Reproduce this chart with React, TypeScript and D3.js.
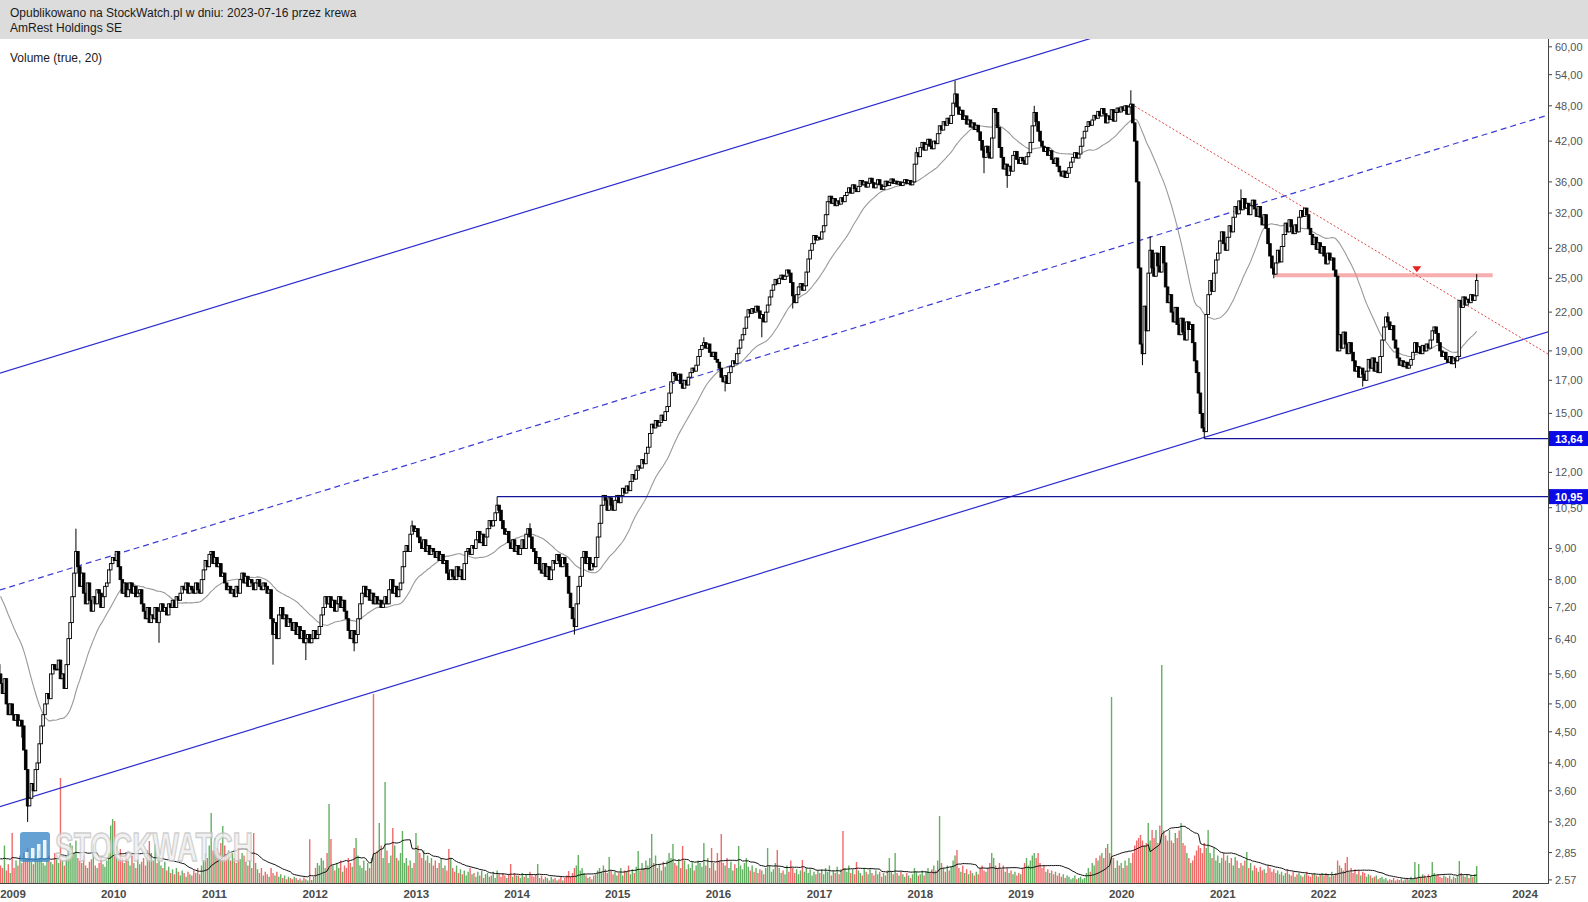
import { useEffect, useRef } from 'react';
import * as d3 from 'd3';

const WIDTH = 1588;
const HEIGHT = 902;
const HEADER_H = 39;
const AXIS_X = 1548;
const BASE_Y = 883;
const FONT = '"Liberation Sans", Arial, sans-serif';

const titleText = 'Opublikowano na StockWatch.pl w dniu: 2023-07-16 przez krewa';
const symbolText = 'AmRest Holdings SE';
const volumeLabel = 'Volume (true, 20)';
const watermarkText = 'STOCKWATCH';

const priceTicks = [60, 54, 48, 42, 36, 32, 28, 25, 22, 19, 17, 15, 12, 10.5, 9, 8, 7.2, 6.4, 5.6, 5, 4.5, 4, 3.6, 3.2, 2.85, 2.57];
const yearLabels = [2009, 2010, 2011, 2012, 2013, 2014, 2015, 2016, 2017, 2018, 2019, 2020, 2021, 2022, 2023, 2024];

// weekly closes (PLN), one value per week starting on the first Monday of the year
// 2008 starts on 2008-04-28 (only the last weeks are visible, the rest feeds the average)
const close2008 = [9.0, 8.8, 9.1, 8.7, 8.4, 8.6, 8.2, 8.0, 7.7, 7.5, 7.8, 8.1, 8.3, 8.2, 8.4, 8.2, 7.9, 7.7, 7.8, 7.6, 7.3, 7.2, 6.8, 6.2, 6.0, 5.6, 5.4, 5.8, 5.6, 5.4, 5.2, 5.5, 5.0, 4.8, 5.0, 4.8];
const close2009 = [4.7, 4.8, 4.6, 4.7, 4.6, 4.2, 3.9, 3.4, 3.5, 3.7, 3.6, 3.9, 4.0, 4.3, 4.6, 4.8, 5.0, 5.2, 5.1, 5.6, 5.8, 5.7, 5.7, 5.9, 5.5, 5.6, 5.3, 5.8, 6.4, 6.8, 7.5, 8.2, 8.9, 8.4, 7.8, 8.2, 7.6, 7.3, 7.9, 7.4, 7.1, 7.5, 7.3, 7.7, 7.6, 7.2, 7.5, 7.8, 7.9, 8.3, 8.5, 8.7];
const close2010 = [8.6, 8.9, 8.4, 8.0, 7.6, 7.9, 7.5, 7.7, 7.9, 7.6, 7.8, 7.5, 7.6, 7.7, 7.3, 7.1, 6.9, 7.2, 6.8, 7.0, 6.9, 7.2, 6.8, 7.1, 7.3, 7.1, 7.2, 7.0, 7.3, 7.2, 7.4, 7.2, 7.5, 7.4, 7.6, 7.8, 7.7, 7.9, 7.6, 7.8, 7.7, 7.6, 7.9, 7.7, 7.6, 8.0, 8.3, 8.6, 8.4, 8.8, 8.9, 8.5];
const close2011 = [8.7, 8.4, 8.5, 8.1, 8.2, 7.9, 7.7, 7.8, 7.6, 7.7, 7.5, 7.8, 7.6, 8.0, 8.2, 7.9, 8.1, 7.8, 8.0, 7.9, 7.7, 7.9, 8.0, 7.8, 7.7, 7.9, 7.8, 7.6, 7.7, 6.9, 6.5, 6.8, 6.4, 7.0, 7.2, 6.9, 7.0, 6.7, 6.9, 6.8, 6.6, 6.8, 6.5, 6.7, 6.4, 6.6, 6.3, 6.4, 6.5, 6.3, 6.4, 6.6];
const close2012 = [6.4, 6.5, 6.7, 7.0, 7.2, 7.5, 7.3, 7.5, 7.2, 7.4, 7.1, 7.3, 7.5, 7.2, 7.4, 7.1, 6.9, 6.6, 6.4, 6.6, 6.3, 6.5, 6.9, 7.3, 7.6, 7.8, 7.5, 7.7, 7.4, 7.6, 7.3, 7.5, 7.3, 7.4, 7.2, 7.3, 7.5, 7.3, 7.7, 8.0, 7.6, 7.8, 7.5, 7.7, 7.9, 8.4, 8.9, 9.1, 8.9, 9.5, 9.8, 9.6, 9.7];
const close2013 = [9.4, 9.2, 9.0, 9.3, 8.9, 9.1, 8.8, 9.0, 8.9, 8.7, 8.9, 8.6, 8.8, 8.5, 8.6, 8.2, 8.0, 8.3, 8.1, 8.0, 8.4, 8.1, 8.3, 8.0, 8.5, 8.9, 9.0, 8.8, 9.1, 9.0, 9.3, 9.6, 9.2, 9.5, 9.1, 9.4, 9.7, 10.0, 9.8, 10.0, 10.3, 10.6, 10.4, 10.0, 9.7, 9.5, 9.6, 9.2, 9.0, 9.3, 8.9, 9.1];
const close2014 = [8.8, 9.0, 9.3, 9.0, 9.5, 9.7, 9.4, 9.0, 8.9, 8.5, 8.7, 8.3, 8.2, 8.5, 8.1, 8.4, 8.0, 8.3, 8.6, 8.5, 8.8, 8.6, 8.4, 8.7, 8.5, 8.1, 7.6, 7.2, 6.9, 6.7, 7.3, 7.8, 8.1, 8.7, 8.9, 8.5, 8.7, 8.3, 8.5, 8.4, 8.7, 9.4, 9.9, 10.6, 11.0, 10.8, 10.4, 10.9, 10.6, 10.4, 10.8, 11.0];
const close2015 = [10.7, 11.0, 11.3, 11.1, 11.4, 11.2, 11.6, 11.9, 11.7, 12.1, 12.3, 12.2, 12.6, 12.4, 12.9, 13.2, 13.9, 14.4, 14.2, 14.6, 14.3, 14.5, 14.9, 14.6, 15.1, 15.4, 16.2, 16.9, 17.5, 17.3, 17.0, 17.4, 16.8, 16.5, 17.0, 16.7, 17.2, 17.5, 17.8, 17.6, 18.0, 18.6, 19.1, 19.4, 19.6, 19.2, 19.5, 18.9, 18.6, 18.9, 18.4, 18.2];
const close2016 = [17.8, 17.2, 16.9, 17.3, 16.8, 17.5, 17.9, 18.3, 18.1, 18.8, 19.2, 19.8, 20.2, 20.7, 21.6, 22.2, 21.9, 22.3, 22.0, 22.5, 22.1, 21.5, 21.8, 21.2, 22.0, 22.6, 23.3, 23.9, 24.4, 24.9, 24.5, 25.0, 25.3, 24.9, 25.2, 25.8, 25.5, 24.6, 23.4, 22.8, 23.5, 24.2, 24.5, 23.9, 24.3, 25.6, 26.9, 27.8, 28.5, 29.4, 28.9, 29.2];
const close2017 = [29.0, 29.8, 30.5, 31.8, 33.4, 34.1, 33.2, 33.8, 32.9, 33.5, 33.1, 33.9, 33.4, 34.2, 34.6, 35.2, 34.5, 35.6, 35.1, 34.7, 35.4, 36.2, 35.6, 36.0, 35.3, 35.8, 36.5, 35.9, 35.2, 35.7, 36.3, 35.6, 35.0, 35.4, 36.1, 35.5, 35.9, 36.4, 35.8, 36.1, 35.7, 36.0, 35.5, 35.9, 36.3, 35.8, 36.2, 35.6, 36.0, 38.5, 40.2, 39.6];
const close2018 = [41.0, 41.8, 40.6, 41.5, 42.3, 41.2, 40.8, 42.0, 41.6, 43.2, 44.5, 43.8, 45.2, 44.6, 45.8, 44.9, 46.3, 48.5, 50.2, 47.8, 46.5, 47.2, 45.6, 46.2, 44.8, 45.5, 44.3, 45.0, 43.9, 44.6, 43.5, 42.1, 40.6, 39.5, 41.2, 40.2, 39.4, 42.5, 47.5, 46.8, 44.2, 41.0, 39.5, 37.8, 38.5, 36.9, 38.2, 37.5, 39.8, 40.4, 39.2, 38.6, 39.5];
const close2019 = [39.0, 38.5, 39.6, 40.2, 41.8, 44.5, 46.8, 45.2, 43.6, 42.0, 41.2, 40.4, 41.0, 39.8, 40.5, 39.2, 38.6, 39.4, 38.2, 37.4, 36.8, 37.5, 36.6, 37.2, 38.0, 38.8, 39.5, 40.2, 39.4, 40.0, 41.2, 42.5, 43.6, 44.4, 45.2, 44.6, 45.5, 46.3, 45.8, 47.0, 46.2, 47.5, 46.6, 45.0, 46.2, 45.6, 47.3, 45.3, 46.8, 47.6, 46.9, 47.8];
const close2020 = [47.2, 48.0, 46.5, 47.8, 48.3, 45.0, 42.0, 36.0, 26.0, 19.5, 18.8, 22.5, 20.5, 25.5, 27.8, 26.0, 25.2, 27.5, 26.2, 25.6, 28.2, 26.5, 24.2, 22.8, 23.5, 22.0, 21.2, 22.4, 21.0, 20.2, 21.5, 20.4, 19.8, 21.2, 20.6, 21.0, 19.6, 18.3, 17.5, 16.2, 15.0, 14.2, 14.0, 21.8, 23.5, 24.8, 23.8, 25.5, 26.8, 27.5, 28.8, 29.8];
const close2021 = [28.5, 27.8, 29.2, 30.5, 29.8, 31.5, 32.8, 31.9, 33.5, 32.4, 33.8, 32.6, 33.2, 31.8, 32.9, 33.6, 32.5, 31.6, 32.8, 31.5, 30.6, 31.8, 30.2, 28.5, 27.2, 26.0, 25.4, 26.5, 27.8, 26.6, 28.2, 29.5, 30.8, 29.8, 31.2, 30.4, 29.6, 30.6, 29.8, 31.5, 32.3, 31.6, 32.6, 31.8, 30.2, 29.5, 28.4, 29.2, 27.9, 28.6, 27.5, 28.2];
const close2022 = [27.2, 26.4, 27.5, 26.8, 27.0, 25.8, 25.2, 19.0, 20.2, 19.2, 20.4, 19.5, 18.8, 19.6, 18.9, 18.3, 17.6, 17.9, 17.2, 17.8, 17.4, 17.0, 17.6, 18.4, 17.8, 18.5, 17.6, 18.2, 17.5, 18.6, 19.8, 20.8, 21.6, 21.2, 20.6, 20.9, 19.8, 19.2, 18.5, 18.0, 18.3, 17.9, 18.2, 17.8, 18.0, 18.4, 18.9, 19.6, 18.9, 19.3, 18.8, 19.4];
const close2023 = [19.0, 19.5, 19.2, 19.8, 20.5, 20.8, 20.3, 19.6, 19.0, 18.6, 18.9, 18.4, 18.2, 18.6, 18.1, 18.5, 18.3, 18.6, 23.0, 22.4, 23.3, 22.6, 23.1, 22.8, 23.5, 23.0, 23.4, 24.8];

// weekly volume, thousands of shares
const vol2008 = [90, 70, 110, 85, 60, 95, 120, 75, 80, 100, 65, 90, 105, 70, 85, 60, 75, 95, 110, 130, 85, 100, 140, 160, 120, 90, 110, 80, 95, 70, 60, 150, 50, 75, 40, 200];
const vol2009 = [60, 90, 70, 110, 80, 120, 95, 140, 100, 85, 75, 110, 90, 130, 100, 80, 70, 95, 110, 85, 75, 120, 95, 80, 420, 90, 70, 110, 130, 160, 150, 120, 170, 100, 90, 80, 110, 70, 60, 85, 95, 155, 70, 60, 80, 100, 75, 65, 90, 120, 230, 256];
const vol2010 = [248, 150, 90, 136, 100, 80, 120, 90, 70, 110, 80, 60, 95, 75, 85, 100, 70, 130, 168, 120, 90, 156, 80, 110, 70, 60, 85, 50, 65, 40, 55, 35, 60, 45, 30, 50, 40, 25, 45, 35, 30, 50, 40, 60, 35, 70, 90, 120, 100, 150, 280, 130];
const vol2011 = [180, 140, 120, 160, 228, 150, 110, 130, 90, 120, 100, 80, 140, 95, 120, 110, 85, 70, 90, 60, 200, 80, 55, 40, 60, 30, 45, 35, 25, 60, 40, 30, 45, 25, 35, 20, 30, 15, 25, 20, 15, 25, 20, 12, 18, 10, 22, 15, 10, 175, 12, 25];
const vol2012 = [60, 80, 70, 100, 90, 60, 120, 316, 176, 70, 50, 80, 60, 90, 45, 70, 60, 100, 80, 65, 140, 180, 110, 70, 60, 90, 50, 80, 60, 100, 756, 120, 130, 240, 150, 100, 404, 130, 80, 110, 220, 150, 100, 90, 120, 208, 80, 100, 70, 90, 60, 80, 200];
const vol2013 = [150, 120, 100, 130, 90, 110, 80, 100, 70, 90, 60, 80, 100, 60, 70, 50, 136, 100, 60, 45, 70, 40, 55, 35, 50, 30, 45, 60, 35, 40, 25, 45, 30, 50, 20, 35, 40, 25, 30, 45, 20, 50, 35, 25, 40, 30, 20, 35, 76, 25, 40, 30];
const vol2014 = [30, 20, 40, 25, 35, 20, 45, 30, 25, 35, 76, 20, 30, 15, 25, 20, 10, 25, 15, 20, 10, 15, 25, 10, 20, 30, 48, 25, 40, 60, 70, 112, 50, 60, 40, 30, 20, 25, 15, 30, 35, 50, 60, 45, 70, 55, 40, 104, 50, 35, 45, 30];
const vol2015 = [40, 60, 30, 50, 45, 70, 35, 55, 40, 65, 128, 50, 80, 60, 90, 70, 100, 196, 80, 110, 60, 75, 50, 85, 65, 90, 120, 100, 156, 80, 70, 95, 60, 148, 90, 55, 75, 60, 85, 50, 70, 90, 80, 65, 160, 70, 100, 60, 140, 80, 50, 120];
const vol2016 = [90, 196, 80, 70, 100, 60, 85, 50, 75, 60, 148, 70, 55, 80, 100, 65, 50, 70, 45, 60, 40, 55, 50, 35, 60, 140, 70, 45, 55, 80, 132, 60, 40, 50, 35, 70, 45, 90, 60, 40, 55, 35, 50, 92, 45, 60, 40, 55, 30, 45, 35, 50];
const vol2017 = [40, 55, 35, 60, 45, 70, 30, 50, 40, 65, 35, 55, 208, 60, 45, 70, 40, 55, 35, 84, 50, 40, 30, 60, 45, 35, 55, 40, 30, 50, 35, 45, 25, 40, 30, 50, 100, 45, 35, 120, 40, 30, 45, 35, 25, 40, 30, 20, 35, 60, 45, 30];
const vol2018 = [35, 50, 30, 45, 60, 40, 55, 70, 50, 90, 268, 80, 60, 45, 70, 50, 65, 90, 110, 132, 60, 45, 70, 40, 55, 35, 50, 40, 30, 45, 35, 60, 70, 50, 45, 60, 80, 120, 100, 70, 60, 80, 55, 70, 45, 60, 40, 50, 35, 45, 30, 40, 35];
const vol2019 = [60, 80, 100, 70, 90, 110, 120, 100, 120, 80, 60, 70, 45, 55, 40, 50, 35, 45, 30, 40, 25, 35, 20, 30, 25, 15, 20, 30, 15, 20, 25, 15, 20, 40, 60, 45, 80, 70, 100, 90, 110, 120, 100, 140, 156, 120, 744, 100, 60, 90, 70, 80];
const vol2020 = [60, 90, 70, 100, 80, 120, 150, 170, 180, 192, 170, 150, 160, 240, 170, 212, 180, 212, 160, 230, 872, 210, 190, 170, 212, 170, 160, 200, 180, 210, 240, 160, 150, 120, 100, 80, 90, 110, 130, 150, 140, 120, 160, 140, 212, 120, 100, 140, 90, 110, 80, 100];
const vol2021 = [120, 90, 110, 80, 100, 70, 104, 90, 60, 80, 70, 90, 124, 60, 80, 50, 70, 60, 45, 65, 50, 55, 40, 70, 60, 45, 55, 40, 50, 35, 45, 30, 40, 55, 35, 30, 45, 25, 35, 40, 30, 25, 35, 45, 30, 25, 35, 40, 30, 25, 35, 40];
const vol2022 = [30, 40, 35, 25, 45, 30, 40, 90, 70, 60, 50, 80, 104, 45, 60, 40, 55, 35, 50, 30, 45, 40, 25, 35, 30, 20, 25, 30, 15, 20, 25, 15, 20, 10, 15, 12, 20, 10, 15, 12, 18, 10, 15, 20, 12, 25, 15, 84, 20, 76, 25, 35];
const vol2023 = [30, 20, 35, 25, 84, 40, 30, 35, 25, 20, 30, 25, 20, 30, 15, 25, 20, 30, 88, 40, 30, 25, 35, 20, 30, 25, 35, 68];

// notable shadows: [year, week of year, price]
const wickHighs = [[2009, 32, 9.7], [2012, 50, 10.0], [2013, 41, 10.95], [2014, 6, 9.9], [2015, 44, 20.0], [2017, 50, 41.0], [2018, 18, 52.8], [2019, 6, 48.0], [2020, 4, 50.9], [2020, 14, 29.3], [2021, 9, 35.0], [2022, 33, 22.0], [2023, 27, 25.4]];
const wickLows = [[2009, 4, 4.4], [2009, 7, 3.2], [2010, 23, 6.3], [2011, 30, 5.8], [2011, 47, 5.9], [2012, 20, 6.1], [2014, 29, 6.5], [2016, 3, 16.3], [2016, 22, 20.0], [2016, 38, 22.3], [2018, 33, 37.2], [2018, 45, 35.2], [2020, 10, 18.0], [2020, 42, 13.64], [2021, 26, 25.0], [2022, 20, 16.6], [2023, 16, 17.8]];

// drawn lines: [date, price] anchors
const channelUpper = [['2008-11-14', 17.47], ['2024-03-25', 105.3]];
const channelMiddle = [['2008-11-14', 7.69], ['2024-03-25', 46.35]];
const channelLower = [['2008-11-14', 3.39], ['2024-03-25', 20.42]];
const downTrend = [['2020-02-17', 47.95], ['2024-03-25', 18.77]];
const supportLevels = [['2020-10-26', 13.64], ['2013-10-21', 10.95]];
const resistanceBand = [['2021-07-08', 25.3], ['2023-09-06', 25.3]];
const resistanceMarker = ['2022-12-05', 25.3];

const seriesByYear: [number, number[], number[]][] = [
  [2008, close2008, vol2008], [2009, close2009, vol2009], [2010, close2010, vol2010],
  [2011, close2011, vol2011], [2012, close2012, vol2012], [2013, close2013, vol2013],
  [2014, close2014, vol2014], [2015, close2015, vol2015], [2016, close2016, vol2016],
  [2017, close2017, vol2017], [2018, close2018, vol2018], [2019, close2019, vol2019],
  [2020, close2020, vol2020], [2021, close2021, vol2021], [2022, close2022, vol2022],
  [2023, close2023, vol2023],
];

interface Week {
  date: Date;
  year: number;
  k: number;
  open: number;
  close: number;
  high: number;
  low: number;
  volume: number;
}

const parseDate = d3.timeParse('%Y-%m-%d');
const fmtPrice = (v: number) => v.toFixed(2).replace('.', ',');

function firstMonday(year: number): Date {
  if (year === 2008) return new Date(2008, 3, 28);
  return d3.timeMonday.ceil(new Date(year, 0, 1));
}

function buildWeeks(): Week[] {
  const weeks: Week[] = [];
  let prev: number | null = null;
  seriesByYear.forEach(([year, closes, vols]) => {
    const start = firstMonday(year);
    closes.forEach((c, k) => {
      const open = prev ?? c;
      weeks.push({
        date: d3.timeDay.offset(start, 7 * k),
        year,
        k,
        open,
        close: c,
        high: Math.max(open, c),
        low: Math.min(open, c),
        volume: vols[k] ?? 0,
      });
      prev = c;
    });
  });
  wickHighs.forEach(([y, k, v]) => {
    const w = weeks.find((d) => d.year === y && d.k === k);
    if (w) w.high = Math.max(w.high, v);
  });
  wickLows.forEach(([y, k, v]) => {
    const w = weeks.find((d) => d.year === y && d.k === k);
    if (w) w.low = Math.min(w.low, v);
  });
  return weeks;
}

function sma(values: number[], n: number): (number | null)[] {
  return values.map((_, i) => (i < n - 1 ? null : d3.mean(values.slice(i - n + 1, i + 1)) ?? null));
}

function drawChart(svgEl: SVGSVGElement) {
  const weeks = buildWeeks();
  const svg = d3.select(svgEl);
  svg.selectAll('*').remove();

  const x = d3.scaleTime().domain([new Date(2009, 0, 1), new Date(2024, 0, 1)]).range([13, 1525]);
  const y = d3.scaleLog().domain([2.54, 61.8]).range([BASE_Y, HEADER_H]);
  const yVol = d3.scaleLinear().domain([0, 880]).range([BASE_Y, 663]);

  const defs = svg.append('defs');
  defs.append('clipPath').attr('id', 'plot-clip')
    .append('rect').attr('x', 0).attr('y', HEADER_H).attr('width', AXIS_X).attr('height', BASE_Y - HEADER_H);
  defs.append('clipPath').attr('id', 'axis-clip')
    .append('rect').attr('x', AXIS_X).attr('y', HEADER_H).attr('width', WIDTH - AXIS_X).attr('height', BASE_Y - HEADER_H + 1);

  svg.append('rect').attr('width', WIDTH).attr('height', HEIGHT).attr('fill', '#fff');

  const plot = svg.append('g').attr('clip-path', 'url(#plot-clip)');

  // volume
  plot.append('g')
    .selectAll('rect')
    .data(weeks)
    .join('rect')
    .attr('x', (d) => x(d.date) - 0.7)
    .attr('width', 1.4)
    .attr('y', (d) => yVol(d.volume))
    .attr('height', (d) => BASE_Y - yVol(d.volume))
    .attr('fill', (d) => (d.close >= d.open ? '#63b063' : '#f06a6a'));

  const volMa = sma(weeks.map((d) => d.volume), 20);
  plot.append('path')
    .datum(weeks.map((d, i) => [d.date, volMa[i]] as [Date, number | null]))
    .attr('fill', 'none')
    .attr('stroke', '#111')
    .attr('stroke-width', 1)
    .attr('d', d3.line<[Date, number | null]>()
      .defined((d) => d[1] != null)
      .x((d) => x(d[0]))
      .y((d) => yVol(d[1] as number)));

  // watermark
  const wm = svg.append('g').attr('opacity', 0.8);
  wm.append('rect').attr('x', 20).attr('y', 832).attr('width', 30).attr('height', 30).attr('rx', 3).attr('fill', '#3f8bc9');
  [6, 10, 14, 18].forEach((h, i) => {
    wm.append('rect').attr('x', 25 + i * 6).attr('y', 858 - h).attr('width', 3.5).attr('height', h).attr('fill', '#e8f1f8');
  });
  wm.append('text')
    .attr('x', 55).attr('y', 861)
    .attr('font-family', FONT).attr('font-weight', 'bold').attr('font-size', 40)
    .attr('textLength', 198).attr('lengthAdjust', 'spacingAndGlyphs')
    .attr('fill', '#eeeeee').attr('stroke', '#c4c4c4').attr('stroke-width', 1.5)
    .text(watermarkText);

  const linePath = (pts: (string | number)[][]) =>
    d3.line<(string | number)[]>()
      .x((p) => x(parseDate(p[0] as string) as Date))
      .y((p) => y(p[1] as number))(pts);

  // channel & trend lines
  plot.append('path').attr('d', linePath(channelUpper)).attr('stroke', '#2a2ad0').attr('stroke-width', 1.2).attr('fill', 'none');
  plot.append('path').attr('d', linePath(channelLower)).attr('stroke', '#2a2ad0').attr('stroke-width', 1.2).attr('fill', 'none');
  plot.append('path').attr('d', linePath(channelMiddle)).attr('stroke', '#3b3bd6').attr('stroke-width', 1.2)
    .attr('stroke-dasharray', '6,4').attr('fill', 'none');

  // price moving average
  const priceMa = sma(weeks.map((d) => d.close), 30);
  plot.append('path')
    .datum(weeks.map((d, i) => [d.date, priceMa[i]] as [Date, number | null]))
    .attr('fill', 'none')
    .attr('stroke', '#999')
    .attr('stroke-width', 1.1)
    .attr('d', d3.line<[Date, number | null]>()
      .defined((d) => d[1] != null)
      .x((d) => x(d[0]))
      .y((d) => y(d[1] as number)));

  // resistance band
  plot.append('path').attr('d', linePath(resistanceBand)).attr('stroke', '#f28c8c').attr('stroke-opacity', 0.7)
    .attr('stroke-width', 4).attr('fill', 'none');
  plot.append('path').attr('d', linePath(downTrend)).attr('stroke', '#e04848').attr('stroke-width', 1)
    .attr('stroke-dasharray', '2,2').attr('fill', 'none');
  const mx = x(parseDate(resistanceMarker[0] as string) as Date);
  const my = y(resistanceMarker[1] as number) - 3;
  plot.append('path')
    .attr('d', `M${mx - 4.5},${my - 6}L${mx + 4.5},${my - 6}L${mx},${my}Z`)
    .attr('fill', '#e82020');

  // candles
  const candles = plot.append('g');
  candles.selectAll('line')
    .data(weeks)
    .join('line')
    .attr('x1', (d) => x(d.date))
    .attr('x2', (d) => x(d.date))
    .attr('y1', (d) => y(d.high))
    .attr('y2', (d) => y(d.low))
    .attr('stroke', '#000')
    .attr('stroke-width', 1);
  candles.selectAll('rect')
    .data(weeks)
    .join('rect')
    .attr('x', (d) => x(d.date) - 1.3)
    .attr('width', 2.6)
    .attr('y', (d) => y(Math.max(d.open, d.close)))
    .attr('height', (d) => Math.max(0.8, y(Math.min(d.open, d.close)) - y(Math.max(d.open, d.close))))
    .attr('fill', (d) => (d.close >= d.open ? '#fff' : '#000'))
    .attr('stroke', '#000')
    .attr('stroke-width', 0.9);

  // horizontal support levels
  supportLevels.forEach(([from, price]) => {
    const yy = y(price as number);
    plot.append('line')
      .attr('x1', x(parseDate(from as string) as Date)).attr('x2', AXIS_X)
      .attr('y1', yy).attr('y2', yy)
      .attr('stroke', '#141496').attr('stroke-width', 1.2);
  });

  // header
  svg.append('rect').attr('x', 0).attr('y', 0).attr('width', WIDTH).attr('height', HEADER_H).attr('fill', '#dcdcdc');
  svg.append('text').attr('x', 10).attr('y', 17).attr('font-family', FONT).attr('font-size', 12).attr('fill', '#1a1a1a').text(titleText);
  svg.append('text').attr('x', 10).attr('y', 32).attr('font-family', FONT).attr('font-size', 12).attr('fill', '#1a1a1a').text(symbolText);
  svg.append('text').attr('x', 10).attr('y', 62).attr('font-family', FONT).attr('font-size', 12).attr('fill', '#1a1a1a').text(volumeLabel);

  // axes
  svg.append('line').attr('x1', 0).attr('x2', AXIS_X).attr('y1', BASE_Y + 0.5).attr('y2', BASE_Y + 0.5).attr('stroke', '#444');
  svg.append('line').attr('x1', AXIS_X + 0.5).attr('x2', AXIS_X + 0.5).attr('y1', HEADER_H).attr('y2', BASE_Y + 1).attr('stroke', '#444');

  const yAxis = svg.append('g').attr('clip-path', 'url(#axis-clip)');
  priceTicks.forEach((t) => {
    const yy = y(t);
    yAxis.append('line').attr('x1', AXIS_X).attr('x2', AXIS_X + 4).attr('y1', yy).attr('y2', yy).attr('stroke', '#444');
    yAxis.append('text').attr('x', AXIS_X + 7).attr('y', yy + 4).attr('font-family', FONT).attr('font-size', 11)
      .attr('fill', '#555').text(fmtPrice(t));
  });

  supportLevels.forEach(([, price]) => {
    const yy = y(price as number);
    svg.append('rect').attr('x', AXIS_X + 1).attr('y', yy - 7.5).attr('width', WIDTH - AXIS_X - 1).attr('height', 15).attr('fill', '#0a0ae6');
    svg.append('text').attr('x', AXIS_X + 7).attr('y', yy + 4).attr('font-family', FONT).attr('font-size', 11)
      .attr('font-weight', 'bold').attr('fill', '#fff').text(fmtPrice(price as number));
  });

  yearLabels.forEach((yr) => {
    svg.append('text')
      .attr('x', x(new Date(yr, 0, 1)))
      .attr('y', 898)
      .attr('text-anchor', 'middle')
      .attr('font-family', FONT)
      .attr('font-size', 11.5)
      .attr('font-weight', 'bold')
      .attr('fill', '#4a4a4a')
      .text(String(yr));
  });
}

export default function App() {
  const svgRef = useRef<SVGSVGElement>(null);

  useEffect(() => {
    if (!svgRef.current) return;
    drawChart(svgRef.current);
  }, []);

  return (
    <div style={{ position: 'absolute', left: 0, top: 0, width: WIDTH, height: HEIGHT }}>
      <svg ref={svgRef} width={WIDTH} height={HEIGHT} style={{ display: 'block' }} />
    </div>
  );
}
